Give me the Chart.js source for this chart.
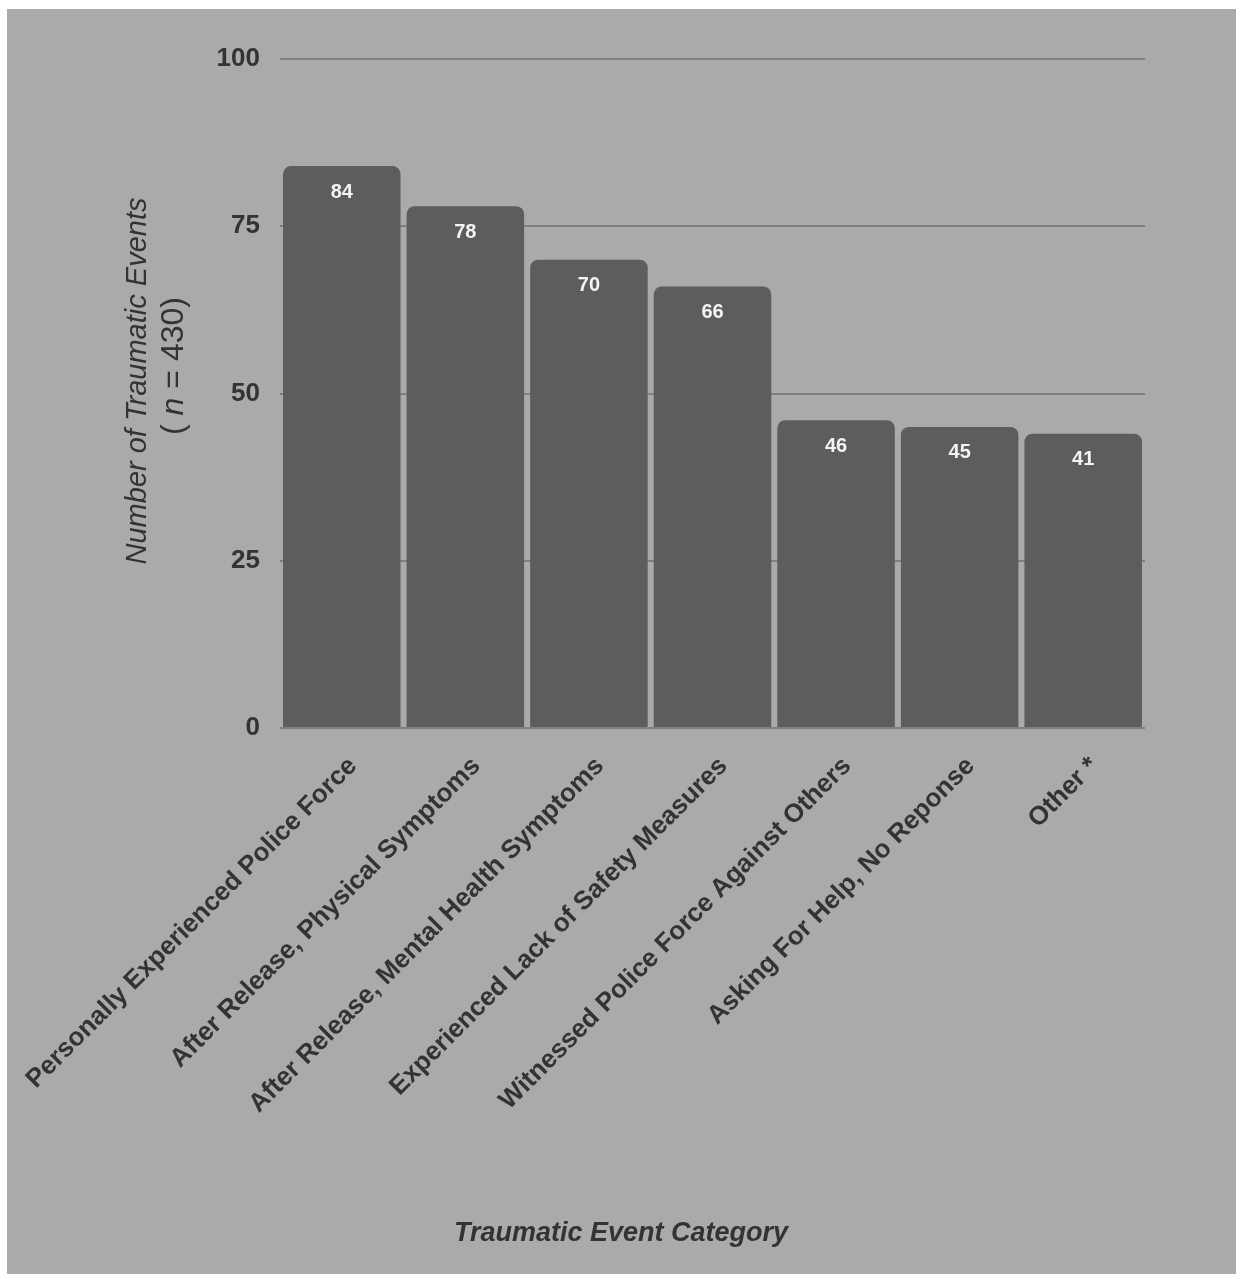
<!DOCTYPE html>
<html><head><meta charset="utf-8">
<script src="https://cdn.jsdelivr.net/npm/chart.js@4/dist/chart.umd.min.js"></script>
<style>html,body{margin:0;padding:0;background:#fff}#wrap{width:1236px;height:1274px}</style>
</head><body><div id="wrap"><canvas id="c" width="1236" height="1274"></canvas></div>
<script>
const categories = [
  'Personally Experienced Police Force',
  'After Release, Physical Symptoms',
  'After Release, Mental Health Symptoms',
  'Experienced Lack of Safety Measures',
  'Witnessed Police Force Against Others',
  'Asking For Help, No Reponse',
  'Other *'
];
const barValues = [84, 78, 70, 66, 46, 45, 44];
const valueLabels = ['84', '78', '70', '66', '46', '45', '41'];
const yTicks = [0, 25, 50, 75, 100];
const yTitleLine1 = 'Number of Traumatic Events';
const yTitleLine2 = ['( ', 'n', ' = 430)'];
const xTitle = 'Traumatic Event Category';

const FONT = '"Liberation Sans", Arial, sans-serif';
const TEXT = '#333333';

const bgPlugin = {
  id: 'bg',
  beforeDraw(chart) {
    const ctx = chart.ctx;
    ctx.save();
    ctx.fillStyle = '#ffffff';
    ctx.fillRect(0, 0, chart.width, chart.height);
    ctx.fillStyle = '#aaaaaa';
    ctx.fillRect(7, 9, chart.width - 7, chart.height - 9);
    ctx.restore();
  }
};

const valueLabelPlugin = {
  id: 'valueLabels',
  afterDatasetsDraw(chart) {
    const ctx = chart.ctx;
    const meta = chart.getDatasetMeta(0);
    ctx.save();
    ctx.fillStyle = '#f4f4f4';
    ctx.font = 'bold 20px ' + FONT;
    ctx.textAlign = 'center';
    ctx.textBaseline = 'middle';
    meta.data.forEach((el, i) => {
      ctx.fillText(valueLabels[i], el.x, el.y + 26);
    });
    ctx.restore();
  }
};

const titlePlugin = {
  id: 'titles',
  afterDraw(chart) {
    const ctx = chart.ctx;
    ctx.save();
    ctx.fillStyle = TEXT;
    // x title
    ctx.font = 'italic bold 27px ' + FONT;
    ctx.textAlign = 'center';
    ctx.textBaseline = 'alphabetic';
    ctx.fillText(xTitle, 621, 1241);
    // y title line 1
    ctx.save();
    ctx.translate(146, 381);
    ctx.rotate(-Math.PI / 2);
    ctx.font = 'italic 29px ' + FONT;
    ctx.textAlign = 'center';
    ctx.fillText(yTitleLine1, 0, 0);
    ctx.restore();
    // y title line 2 (mixed styles)
    ctx.save();
    ctx.translate(183, 366);
    ctx.rotate(-Math.PI / 2);
    const fonts = ['32px ' + FONT, 'italic 32px ' + FONT, '32px ' + FONT];
    let total = 0;
    const widths = yTitleLine2.map((t, i) => { ctx.font = fonts[i]; const w = ctx.measureText(t).width; total += w; return w; });
    let x = -total / 2;
    ctx.textAlign = 'left';
    yTitleLine2.forEach((t, i) => { ctx.font = fonts[i]; ctx.fillText(t, x, 0); x += widths[i]; });
    ctx.restore();
    ctx.restore();
  }
};

new Chart(document.getElementById('c'), {
  type: 'bar',
  data: {
    labels: categories,
    datasets: [{
      data: barValues,
      backgroundColor: '#5d5d5d',
      borderRadius: { topLeft: 8, topRight: 8, bottomLeft: 0, bottomRight: 0 },
      borderSkipped: false,
      barPercentage: 0.951,
      categoryPercentage: 1.0
    }]
  },
  options: {
    responsive: false,
    animation: false,
    devicePixelRatio: 1,
    layout: { padding: { top: 59, left: 0, right: 91, bottom: 0 } },
    plugins: { legend: { display: false }, tooltip: { enabled: false } },
    scales: {
      x: {
        grid: { display: false },
        border: { display: false },
        ticks: {
          autoSkip: false,
          minRotation: 45,
          maxRotation: 45,
          color: TEXT,
          padding: 15,
          labelOffset: 11,
          font: { family: FONT, size: 26, weight: 'bold' }
        },
        afterFit(scale) { scale.height = 546; scale.paddingLeft = 0; scale.paddingRight = 0; }
      },
      y: {
        min: 0,
        max: 100,
        afterBuildTicks(scale) { scale.ticks = yTicks.map(v => ({ value: v })); },
        grid: { color: '#7f7f7f', lineWidth: 2, drawTicks: false },
        border: { display: false },
        ticks: {
          color: TEXT,
          padding: 20,
          font: { family: FONT, size: 26, weight: 'bold' }
        },
        afterFit(scale) { scale.width = 280; }
      }
    }
  },
  plugins: [bgPlugin, valueLabelPlugin, titlePlugin]
});
</script></body></html>
